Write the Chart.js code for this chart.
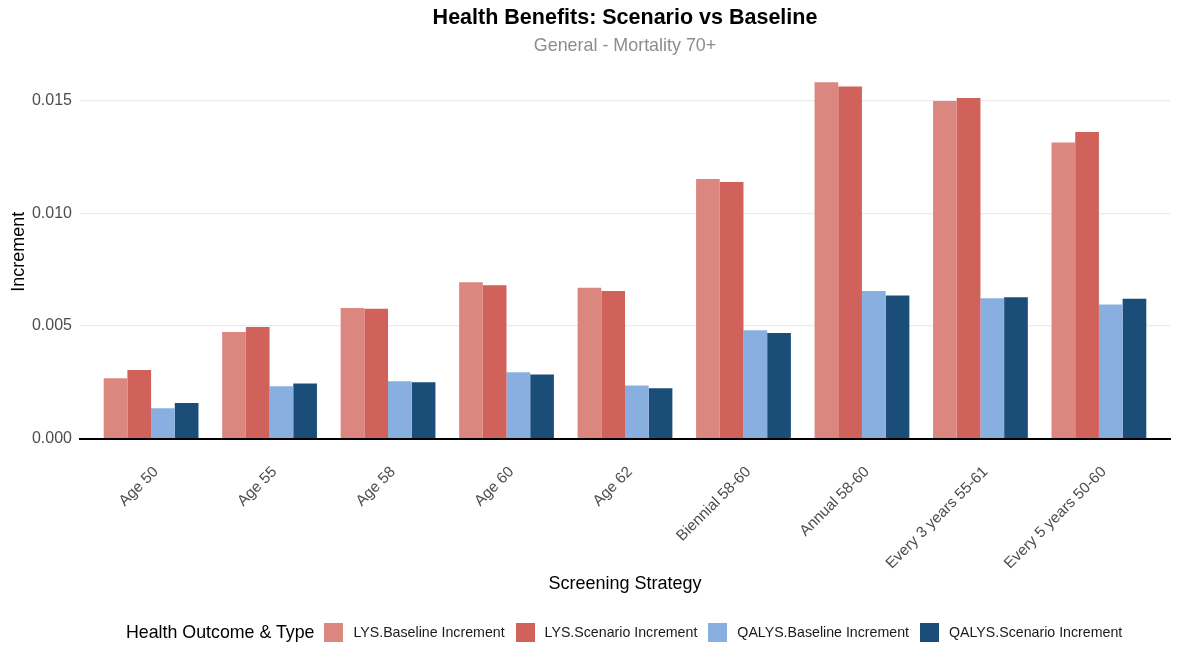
<!DOCTYPE html>
<html>
<head>
<meta charset="utf-8">
<title>Health Benefits: Scenario vs Baseline</title>
<script src="https://cdn.jsdelivr.net/npm/chart.js@4.4.0/dist/chart.umd.min.js"></script>
<style>
  body { margin: 0; background: #fff; font-family: "Liberation Sans", Arial, sans-serif; }
  #wrap { position: relative; width: 1177px; height: 645px; }
  #legend { position: absolute; left: 126px; top: 620px; height: 24px; display: flex; align-items: center; color: #1a1a1a; font-size: 14.2px; white-space: nowrap; }
  #legend .ttl { font-size: 17.8px; color: #000; margin-right: 10px; }
  #legend .box { width: 19px; height: 19px; margin-right: 10px; }
  #legend .item { display: flex; align-items: center; margin-right: 11px; }
</style>
</head>
<body>
<div id="wrap">
  <canvas id="benefitsChart" width="1177" height="645"></canvas>
  <div id="legend"><span class="ttl">Health Outcome &amp; Type</span></div>
</div>
<script>
// Screening strategies and increments per outcome
const strategies = ['Age 50', 'Age 55', 'Age 58', 'Age 60', 'Age 62', 'Biennial 58-60', 'Annual 58-60', 'Every 3 years 55-61', 'Every 5 years 50-60'];
const lysBaseline   = [0.00268, 0.00473, 0.00580, 0.00694, 0.00670, 0.01153, 0.01583, 0.01500, 0.01316];
const lysScenario   = [0.00304, 0.00496, 0.00577, 0.00681, 0.00656, 0.01140, 0.01565, 0.01513, 0.01362];
const qalysBaseline = [0.00134, 0.00232, 0.00254, 0.00294, 0.00236, 0.00481, 0.00656, 0.00623, 0.00596];
const qalysScenario = [0.00158, 0.00244, 0.00250, 0.00284, 0.00223, 0.00469, 0.00636, 0.00628, 0.00621];
const seriesNames = ['LYS.Baseline Increment', 'LYS.Scenario Increment', 'QALYS.Baseline Increment', 'QALYS.Scenario Increment'];
const yTicks = [0, 0.005, 0.010, 0.015];

const seriesColors = ['#dc8680', '#d0625b', '#88afe0', '#1a4e78'];
const seriesValues = [lysBaseline, lysScenario, qalysBaseline, qalysScenario];
const FONT = '"Liberation Sans", Arial, sans-serif';

// Title, subtitle and x title centred over the plot panel
const panelText = {
    id: 'panelText',
    afterDraw(chart) {
        const c = chart.ctx;
        const cx = (chart.chartArea.left + chart.chartArea.right) / 2;
        c.save();
        c.textAlign = 'center';
        c.textBaseline = 'middle';
        c.fillStyle = '#000';
        c.font = 'bold 21.5px ' + FONT;
        c.fillText('Health Benefits: Scenario vs Baseline', cx, 18);
        c.fillStyle = '#8c8c8c';
        c.font = '17.9px ' + FONT;
        c.fillText('General - Mortality 70+', cx, 46);
        c.fillStyle = '#000';
        c.font = '18px ' + FONT;
        c.fillText('Screening Strategy', cx, 584);
        c.restore();
    }
};

const ctx = document.getElementById('benefitsChart').getContext('2d');
const benefitsChart = new Chart(ctx, {
    type: 'bar',
    data: {
        labels: strategies,
        datasets: seriesNames.map((name, i) => ({
            label: name,
            data: seriesValues[i],
            backgroundColor: seriesColors[i],
            borderWidth: 0,
            barPercentage: 1,
            categoryPercentage: 0.8
        }))
    },
    options: {
        responsive: false,
        animation: false,
        layout: { padding: { top: 65, left: 8, right: 7, bottom: 44.5 } },
        plugins: {
            legend: { display: false },
            title: { display: false },
            tooltip: { enabled: false }
        },
        scales: {
            x: {
                z: 1,
                // a little extra room either side of the outer groups
                afterBuildTicks: axis => {
                    axis._startValue = -0.6;
                    axis._valueRange = strategies.length - 1 + 1.2;
                },
                afterFit: axis => {
                    axis.height = 162;
                    axis.paddingLeft = 0;
                    axis.paddingRight = 0;
                },
                // invisible tick marks push the labels down
                grid: {
                    display: true,
                    drawOnChartArea: false,
                    drawTicks: true,
                    tickLength: 16.5,
                    tickColor: 'rgba(0,0,0,0)'
                },
                border: { display: true, color: '#000', width: 2 },
                ticks: {
                    autoSkip: false,
                    minRotation: 45,
                    maxRotation: 45,
                    padding: 8,
                    labelOffset: 5,
                    color: '#4d4d4d',
                    font: { family: FONT, size: 15.3 }
                }
            },
            y: {
                min: 0,
                max: 0.0166,
                afterBuildTicks: axis => { axis.ticks = yTicks.map(v => ({ value: v })); },
                afterFit: axis => { axis.width = 72; },
                grid: {
                    drawTicks: false,
                    lineWidth: 1.2,
                    color: c => (c.tick && c.tick.value === 0) ? 'rgba(0,0,0,0)' : '#ebebeb'
                },
                border: { display: false },
                ticks: {
                    padding: 8,
                    color: '#4d4d4d',
                    callback: v => v.toFixed(3),
                    font: { family: FONT, size: 16 }
                },
                title: {
                    display: true,
                    text: 'Increment',
                    color: '#000',
                    padding: { top: 0, bottom: 2 },
                    font: { family: FONT, size: 18 }
                }
            }
        }
    },
    plugins: [panelText]
});

// Legend row built from the datasets
const legendEl = document.getElementById('legend');
benefitsChart.data.datasets.forEach(ds => {
    const item = document.createElement('span');
    item.className = 'item';
    item.innerHTML = `<span class="box" style="background:${ds.backgroundColor}"></span>${ds.label}`;
    legendEl.appendChild(item);
});
</script>
</body>
</html>
